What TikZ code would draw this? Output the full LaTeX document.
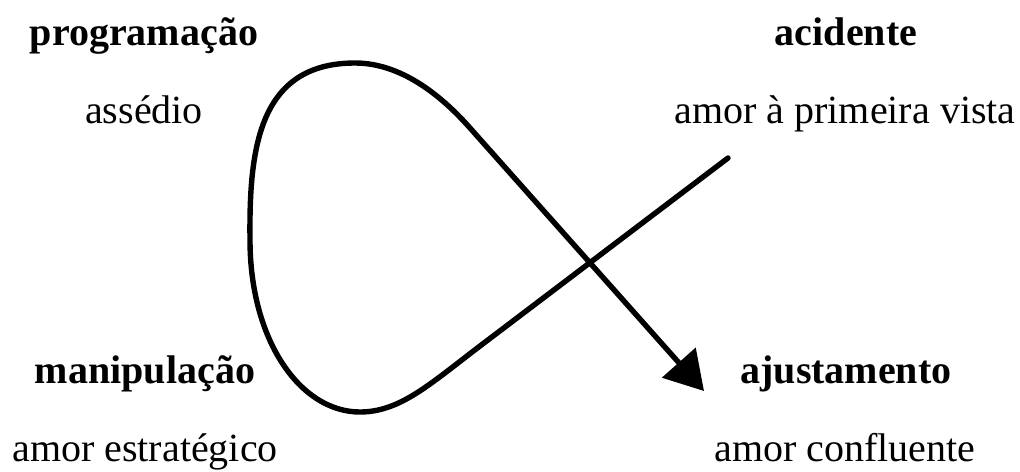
\documentclass[tikz,border=0pt]{standalone}
\usepackage{fontspec}
\setmainfont{Liberation Serif}
\usetikzlibrary{arrows.meta}
\begin{document}
\begin{tikzpicture}[x=0.5pt,y=-0.5pt,
  lbl/.style={font=\fontsize{20}{24}\selectfont, anchor=base, inner sep=0pt},
  head/.style={lbl, font=\fontsize{20}{24}\selectfont\bfseries},
  flow/.style={line width=2.7pt, line cap=round, line join=round, -{Triangle[length=19pt,width=22pt]}}]
\useasboundingbox (0,0) rectangle (1020,471);
% labels
\node[head] (prog) at (144,45) {programação};
\node[lbl]  (ass)  at (144,123) {assédio};
\node[head] (acid) at (846,45) {acidente};
\node[lbl]  (apv)  at (845,123) {amor à primeira vista};
\node[head] (manip) at (145,383) {manipulação};
\node[lbl]  (aest)  at (145,461) {amor estratégico};
\node[head] (ajus) at (846,383) {ajustamento};
\node[lbl]  (aconf) at (845,461) {amor confluente};
% loop
\coordinate (start) at (728,158);
\coordinate (finish) at (704,391);
\draw[flow] (start) -- (480,346)
  .. controls (430,384) and (400,412) .. (360,412)
  .. controls (300,412) and (250,340) .. (250,240)
  .. controls (249,150) and (258,63) .. (355,63)
  .. controls (400,63) and (440,94) .. (470,128)
  -- (finish);
\end{tikzpicture}
\end{document}
